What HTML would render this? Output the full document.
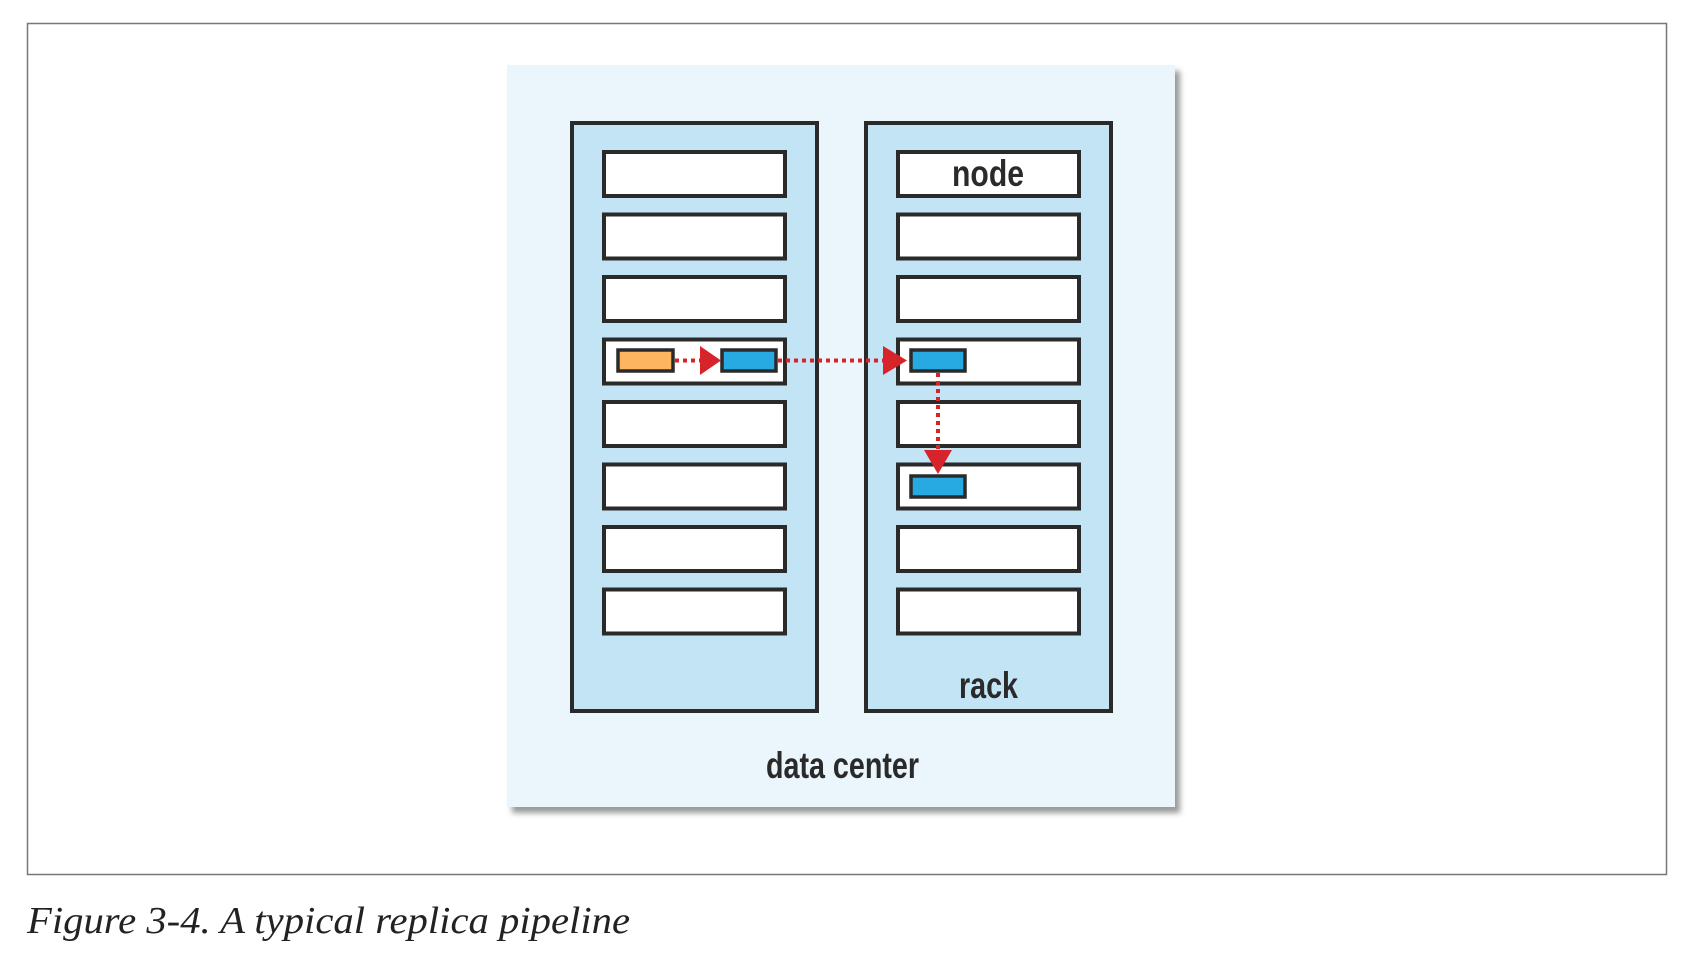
<!DOCTYPE html>
<html><head><meta charset="utf-8"><style>
body{margin:0;background:#fff;width:1696px;height:964px;overflow:hidden;position:relative}
</style></head><body>
<svg width="1696" height="964" style="position:absolute;left:0;top:0">
<defs><filter id="sh" x="-5%" y="-5%" width="115%" height="115%"><feGaussianBlur stdDeviation="3"/></filter></defs>
<rect x="27.5" y="23.5" width="1639" height="851" fill="none" stroke="#777" stroke-width="1.5"/>
<g transform="translate(-3,-2)">
<rect x="515" y="73" width="668" height="742" fill="#999" filter="url(#sh)"/>
<rect x="510" y="67" width="668" height="742" fill="#ebf5fc"/>
<g transform="translate(-1,0)">
<rect x="576" y="125" width="245" height="588" fill="#c3e4f5" stroke="#2a2a2a" stroke-width="4"/>
<rect x="870" y="125" width="245" height="588" fill="#c3e4f5" stroke="#2a2a2a" stroke-width="4"/>
<g fill="#fff" stroke="#2a2a2a" stroke-width="4">
<rect x="608" y="154" width="181" height="44"/><rect x="608" y="216.5" width="181" height="44"/><rect x="608" y="279" width="181" height="44"/><rect x="608" y="341.5" width="181" height="44"/><rect x="608" y="404" width="181" height="44"/><rect x="608" y="466.5" width="181" height="44"/><rect x="608" y="529" width="181" height="44"/><rect x="608" y="591.5" width="181" height="44"/>
<rect x="902" y="154" width="181" height="44"/><rect x="902" y="216.5" width="181" height="44"/><rect x="902" y="279" width="181" height="44"/><rect x="902" y="341.5" width="181" height="44"/><rect x="902" y="404" width="181" height="44"/><rect x="902" y="466.5" width="181" height="44"/><rect x="902" y="529" width="181" height="44"/><rect x="902" y="591.5" width="181" height="44"/>
</g>
<g transform="translate(3,0)">
<g stroke="#2a2a2a" stroke-width="3.5">
<rect x="619" y="352" width="55" height="21" fill="#fdb65f"/>
<rect x="723" y="352" width="54" height="21" fill="#27a9e1"/>
<rect x="912" y="352" width="54" height="21" fill="#27a9e1"/>
<rect x="912" y="478" width="54" height="21" fill="#27a9e1"/>
</g>
<g stroke="#d7242b" stroke-width="4" stroke-dasharray="4,4" fill="none">
<line x1="676" y1="362.5" x2="702" y2="362.5"/>
<line x1="779" y1="362.5" x2="885" y2="362.5"/>
<line x1="939" y1="375" x2="939" y2="452"/>
</g>
<g fill="#d7242b">
<polygon points="701,348 722,362.5 701,377"/>
<polygon points="884,348 908,362.5 884,377"/>
<polygon points="925,452 953,452 939,476"/>
</g>
</g>
<g font-family="'Liberation Sans Narrow','Liberation Sans',sans-serif" font-weight="bold" font-size="37" fill="#2a2a2a">
<text x="956" y="188" textLength="72" lengthAdjust="spacingAndGlyphs">node</text>
<text x="963" y="700" textLength="59" lengthAdjust="spacingAndGlyphs">rack</text>
<text x="770" y="780" textLength="153" lengthAdjust="spacingAndGlyphs">data center</text>
</g>
</g>
</g>
<text x="27" y="933" font-family="'Liberation Serif',serif" font-style="italic" font-size="38" fill="#222" textLength="603" lengthAdjust="spacingAndGlyphs">Figure 3-4. A typical replica pipeline</text>
</svg>
</body></html>
